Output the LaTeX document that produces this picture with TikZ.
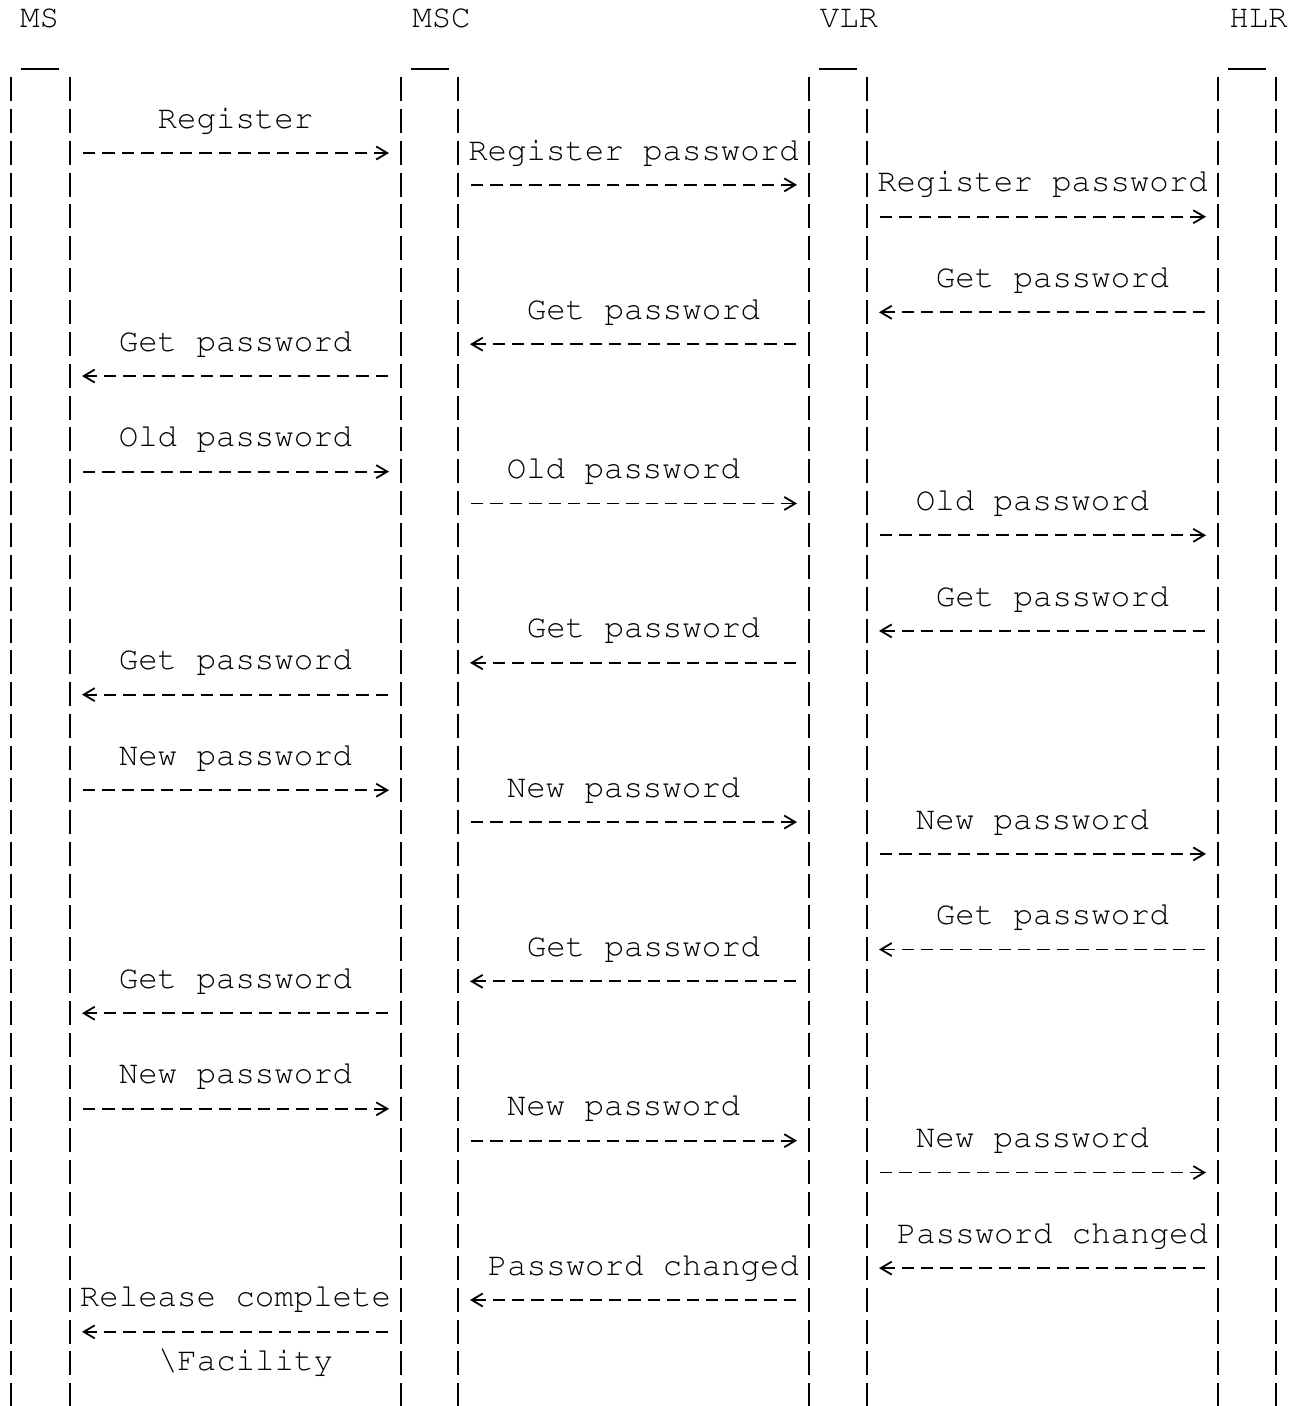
\documentclass[tikz,border=0pt]{standalone}
\usepackage[T1]{fontenc}
\usetikzlibrary{arrows.meta}
\tikzset{
  head/.style={font=\fontfamily{pcr}\fontsize{16.2pt}{19pt}\selectfont, anchor=base, inner sep=0pt},
  lbl/.style={head, yshift=-3.5pt},
  life/.style={line width=0.9pt, dash pattern=on 12pt off 3.93pt},
  topbar/.style={line width=0.9pt},
  msg/.style={line width=0.9pt, dash pattern=on 6.2pt off 3.5pt, shorten <=6.5pt, shorten >=6pt, -{Straight Barb[length=5.5pt,width=6.5pt]}}
}

\begin{document}
\begin{tikzpicture}[x=0.5pt, y=-0.5pt]
  \useasboundingbox (0,0) rectangle (1306,1406);

  % lifelines
  \coordinate (ms-l) at (11,77);   \coordinate (ms-r) at (70,77);
  \coordinate (msc-l) at (401,77); \coordinate (msc-r) at (458,77);
  \coordinate (vlr-l) at (809,77); \coordinate (vlr-r) at (867,77);
  \coordinate (hlr-l) at (1218,77); \coordinate (hlr-r) at (1276,77);
  \coordinate (bot) at (0,1406);
  \coordinate (lane1) at (235.5,0);
  \coordinate (lane2) at (633.5,0);
  \coordinate (lane3) at (1042.5,0);
  \foreach \k in {0,...,41} \coordinate (r\k) at (0,{89.3+31.86*\k});

  \node[head] (ms) at (39.5,28) {MS};
  \node[head] (msc) at (441.5,28) {MSC};
  \node[head] (vlr) at (849,28) {VLR};
  \node[head] (hlr) at (1258.5,28) {HLR};

  \draw[topbar] (ms-l) ++(10,-8) -- ++(38,0);
  \draw[topbar] (msc-l) ++(10,-8) -- ++(38,0);
  \draw[topbar] (vlr-l) ++(10,-8) -- ++(38,0);
  \draw[topbar] (hlr-l) ++(10,-8) -- ++(38,0);

  \draw[life] (ms-l) -- (ms-l |- bot);
  \draw[life] (ms-r) -- (ms-r |- bot);
  \draw[life] (msc-l) -- (msc-l |- bot);
  \draw[life] (msc-r) -- (msc-r |- bot);
  \draw[life] (vlr-l) -- (vlr-l |- bot);
  \draw[life] (vlr-r) -- (vlr-r |- bot);
  \draw[life] (hlr-l) -- (hlr-l |- bot);
  \draw[life] (hlr-r) -- (hlr-r |- bot);

  % MS <-> MSC
  \node[lbl] (a1) at (lane1 |- r1) {Register};
  \draw[msg] (ms-r |- r2) -- (msc-l |- r2);
  \node[lbl] (a2) at (lane1 |- r8) {Get password};
  \draw[msg] (msc-l |- r9) -- (ms-r |- r9);
  \node[lbl] (a3) at (lane1 |- r11) {Old password};
  \draw[msg] (ms-r |- r12) -- (msc-l |- r12);
  \node[lbl] (a4) at (lane1 |- r18) {Get password};
  \draw[msg] (msc-l |- r19) -- (ms-r |- r19);
  \node[lbl] (a5) at (lane1 |- r21) {New password};
  \draw[msg] (ms-r |- r22) -- (msc-l |- r22);
  \node[lbl] (a6) at (lane1 |- r28) {Get password};
  \draw[msg] (msc-l |- r29) -- (ms-r |- r29);
  \node[lbl] (a7) at (lane1 |- r31) {New password};
  \draw[msg] (ms-r |- r32) -- (msc-l |- r32);
  \node[lbl] (a8) at (lane1 |- r38) {Release complete};
  \draw[msg] (msc-l |- r39) -- (ms-r |- r39);
  \node[lbl, xshift=5pt] (a9) at (lane1 |- r40) {\textbackslash Facility};

  % MSC <-> VLR
  \node[lbl] (b1) at (lane2 |- r2) {Register password};
  \draw[msg] (msc-r |- r3) -- (vlr-l |- r3);
  \node[lbl, xshift=5pt] (b2) at (lane2 |- r7) {Get password};
  \draw[msg] (vlr-l |- r8) -- (msc-r |- r8);
  \node[lbl, xshift=-5pt] (b3) at (lane2 |- r12) {Old password};
  \draw[msg] (msc-r |- r13) -- (vlr-l |- r13);
  \node[lbl, xshift=5pt] (b4) at (lane2 |- r17) {Get password};
  \draw[msg] (vlr-l |- r18) -- (msc-r |- r18);
  \node[lbl, xshift=-5pt] (b5) at (lane2 |- r22) {New password};
  \draw[msg] (msc-r |- r23) -- (vlr-l |- r23);
  \node[lbl, xshift=5pt] (b6) at (lane2 |- r27) {Get password};
  \draw[msg] (vlr-l |- r28) -- (msc-r |- r28);
  \node[lbl, xshift=-5pt] (b7) at (lane2 |- r32) {New password};
  \draw[msg] (msc-r |- r33) -- (vlr-l |- r33);
  \node[lbl, xshift=5pt] (b8) at (lane2 |- r37) {Password changed};
  \draw[msg] (vlr-l |- r38) -- (msc-r |- r38);

  % VLR <-> HLR
  \node[lbl] (c1) at (lane3 |- r3) {Register password};
  \draw[msg] (vlr-r |- r4) -- (hlr-l |- r4);
  \node[lbl, xshift=5pt] (c2) at (lane3 |- r6) {Get password};
  \draw[msg] (hlr-l |- r7) -- (vlr-r |- r7);
  \node[lbl, xshift=-5pt] (c3) at (lane3 |- r13) {Old password};
  \draw[msg] (vlr-r |- r14) -- (hlr-l |- r14);
  \node[lbl, xshift=5pt] (c4) at (lane3 |- r16) {Get password};
  \draw[msg] (hlr-l |- r17) -- (vlr-r |- r17);
  \node[lbl, xshift=-5pt] (c5) at (lane3 |- r23) {New password};
  \draw[msg] (vlr-r |- r24) -- (hlr-l |- r24);
  \node[lbl, xshift=5pt] (c6) at (lane3 |- r26) {Get password};
  \draw[msg] (hlr-l |- r27) -- (vlr-r |- r27);
  \node[lbl, xshift=-5pt] (c7) at (lane3 |- r33) {New password};
  \draw[msg] (vlr-r |- r34) -- (hlr-l |- r34);
  \node[lbl, xshift=5pt] (c8) at (lane3 |- r36) {Password changed};
  \draw[msg] (hlr-l |- r37) -- (vlr-r |- r37);
\end{tikzpicture}
\end{document}
